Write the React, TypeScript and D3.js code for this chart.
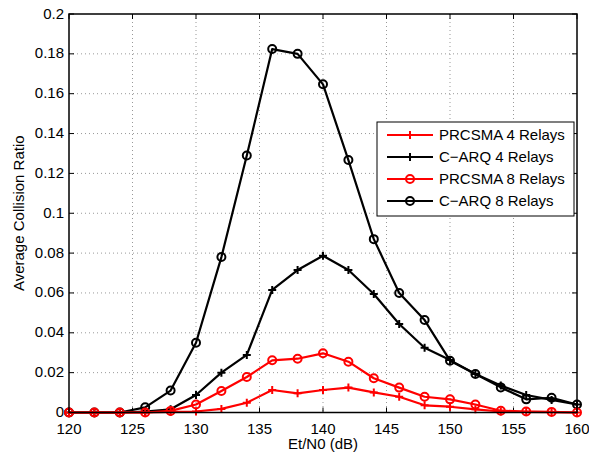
import React from "react";
import * as d3 from "d3";

const xs = [120, 122, 124, 126, 128, 130, 132, 134, 136, 138, 140, 142, 144, 146, 148, 150, 152, 154, 156, 158, 160];
const prcsma4 = [0, 0, 0, 0, 0.0003, 0.0005, 0.0018, 0.0049, 0.0113, 0.0096, 0.0113, 0.0125, 0.0101, 0.0079, 0.0036, 0.0029, 0.0016, 0.0005, 0.0003, 0.0002, 0];
const carq4 = [0, 0, 0, 0.0005, 0.0016, 0.0088, 0.020, 0.0289, 0.0615, 0.0715, 0.0787, 0.0715, 0.0595, 0.0444, 0.0325, 0.0263, 0.0193, 0.0135, 0.0088, 0.0063, 0.004];
const prcsma8 = [0, 0, 0, 0, 0.0008, 0.004, 0.0108, 0.0178, 0.0262, 0.027, 0.0297, 0.0255, 0.0172, 0.0125, 0.0079, 0.0066, 0.004, 0.0009, 0.0005, 0.0003, 0];
const carq8 = [0, 0, 0, 0.0026, 0.011, 0.035, 0.078, 0.129, 0.1824, 0.18, 0.1647, 0.1267, 0.087, 0.060, 0.0464, 0.026, 0.0193, 0.0126, 0.0066, 0.0074, 0.004];
const xTicks = [120, 125, 130, 135, 140, 145, 150, 155, 160];
const yTicks = [0, 0.02, 0.04, 0.06, 0.08, 0.1, 0.12, 0.14, 0.16, 0.18, 0.2];
const seriesNames = ["PRCSMA 4 Relays", "C\u2212ARQ 4 Relays", "PRCSMA 8 Relays", "C\u2212ARQ 8 Relays"];

const W = 589, H = 456;
const L = 69, R = 577, T = 14, B = 412.5;
const font = "Arial, 'Liberation Sans', Helvetica, sans-serif";
const FS = 15;

export default function App() {
  const x = d3.scaleLinear().domain([120, 160]).range([L, R]);
  const y = d3.scaleLinear().domain([0, 0.2]).range([B, T]);
  const series = [
    { name: seriesNames[1], vals: carq4, color: "#000", marker: "plus" },
    { name: seriesNames[3], vals: carq8, color: "#000", marker: "circle" },
    { name: seriesNames[0], vals: prcsma4, color: "#ff0000", marker: "plus" },
    { name: seriesNames[2], vals: prcsma8, color: "#ff0000", marker: "circle" },
  ];
  const line = d3.line<number>().x((_, i) => x(xs[i])).y((v) => y(v));
  const legendItems = [
    { name: seriesNames[0], color: "#ff0000", marker: "plus" },
    { name: seriesNames[1], color: "#000", marker: "plus" },
    { name: seriesNames[2], color: "#ff0000", marker: "circle" },
    { name: seriesNames[3], color: "#000", marker: "circle" },
  ];
  const marker = (m: string, cx: number, cy: number, color: string, key: any) =>
    m === "circle" ? (
      <circle key={key} cx={cx} cy={cy} r={4} fill="none" stroke={color} strokeWidth={2} />
    ) : (
      <path key={key} d={`M${cx - 4},${cy}H${cx + 4}M${cx},${cy - 4}V${cy + 4}`} stroke={color} strokeWidth={2} />
    );
  const lgX = 377, lgY = 122, lgW = 197, lgH = 94;
  return (
    <svg width={W} height={H} style={{ display: "block", position: "absolute", left: 0, top: 0 }} fontFamily={font}>
      <rect width={W} height={H} fill="#fff" />
      {/* grid */}
      {xTicks.slice(1, -1).map((t) => (
        <line key={"gx" + t} x1={x(t)} x2={x(t)} y1={T} y2={B} stroke="#999" strokeWidth={1} strokeDasharray="1,3" />
      ))}
      {yTicks.slice(1, -1).map((t) => (
        <line key={"gy" + t} x1={L} x2={R} y1={y(t)} y2={y(t)} stroke="#999" strokeWidth={1} strokeDasharray="1,3" />
      ))}
      {/* ticks */}
      {xTicks.map((t) => (
        <g key={"tx" + t}>
          <line x1={x(t)} x2={x(t)} y1={B} y2={B - 5} stroke="#000" />
          <line x1={x(t)} x2={x(t)} y1={T} y2={T + 5} stroke="#000" />
          <text x={x(t)} y={433.5} textAnchor="middle" fontSize={FS}>{t}</text>
        </g>
      ))}
      {yTicks.map((t) => (
        <g key={"ty" + t}>
          <line x1={L} x2={L + 5} y1={y(t)} y2={y(t)} stroke="#000" />
          <line x1={R} x2={R - 5} y1={y(t)} y2={y(t)} stroke="#000" />
          <text x={L - 5} y={y(t) + 4.5} textAnchor="end" fontSize={FS}>{d3.format("~g")(t)}</text>
        </g>
      ))}
      {/* series */}
      {series.map((s, si) => (
        <g key={"s" + si}>
          <path d={line(s.vals) || ""} fill="none" stroke={s.color} strokeWidth={2.2} strokeLinejoin="round" />
          {s.vals.map((v, i) => marker(s.marker, x(xs[i]), y(v), s.color, i))}
        </g>
      ))}
      <rect x={L} y={T} width={R - L} height={B - T} fill="none" stroke="#000" strokeWidth={1.5} />
      {/* labels */}
      <text x={(L + R) / 2} y={449} textAnchor="middle" fontSize={FS}>Et/N0 (dB)</text>
      <text transform={`translate(24,${(T + B) / 2}) rotate(-90)`} textAnchor="middle" fontSize={FS}>Average Collision Ratio</text>
      {/* legend */}
      <rect x={lgX} y={lgY} width={lgW} height={lgH} fill="#fff" stroke="#000" strokeWidth={1} />
      {legendItems.map((it, i) => {
        const ly = lgY + 13 + i * 22;
        return (
          <g key={"lg" + i}>
            <line x1={lgX + 10} x2={lgX + 56} y1={ly} y2={ly} stroke={it.color} strokeWidth={2.2} />
            {marker(it.marker, lgX + 33, ly, it.color, "m")}
            <text x={lgX + 62} y={ly + 5} fontSize={FS}>{it.name}</text>
          </g>
        );
      })}
    </svg>
  );
}
